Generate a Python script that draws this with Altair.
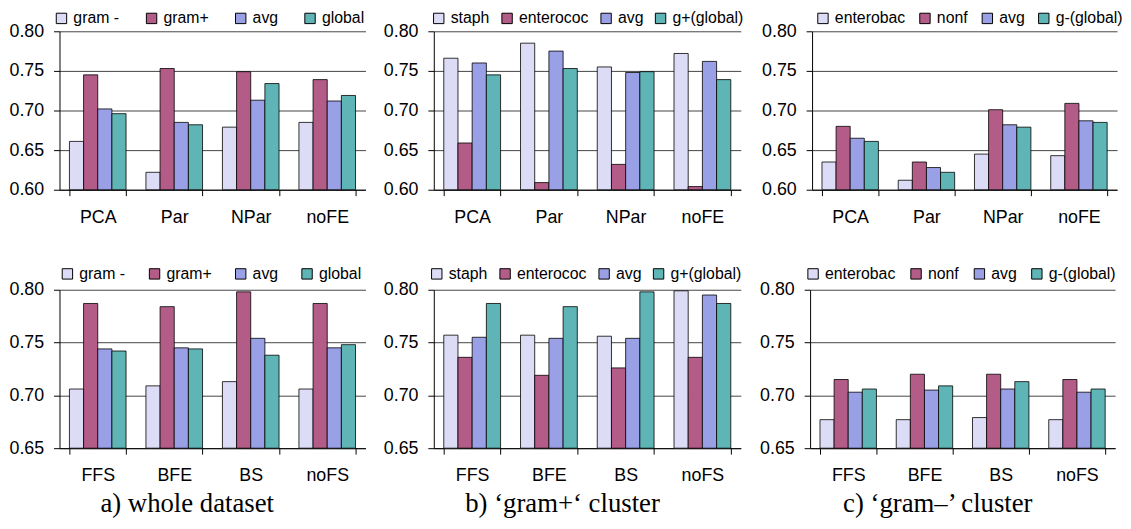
import altair as alt
import pandas as pd

fe_methods = ["PCA", "Par", "NPar", "noFE"]
fs_methods = ["FFS", "BFE", "BS", "noFS"]

names_a = ["gram -", "gram+", "avg", "global"]
names_b = ["staph", "enterococ", "avg", "g+(global)"]
names_c = ["enterobac", "nonf", "avg", "g-(global)"]

# top row (feature extraction)
a_top = [
    [0.661, 0.622, 0.679, 0.685],
    [0.745, 0.753, 0.749, 0.739],
    [0.702, 0.685, 0.713, 0.712],
    [0.696, 0.682, 0.734, 0.719],
]
b_top = [
    [0.766, 0.785, 0.755, 0.772],
    [0.659, 0.609, 0.632, 0.604],
    [0.760, 0.775, 0.748, 0.762],
    [0.745, 0.753, 0.749, 0.739],
]
c_top = [
    [0.635, 0.612, 0.645, 0.643],
    [0.680, 0.635, 0.701, 0.709],
    [0.665, 0.628, 0.682, 0.687],
    [0.661, 0.622, 0.679, 0.685],
]
# bottom row (feature selection)
a_bot = [
    [0.706, 0.709, 0.713, 0.706],
    [0.787, 0.784, 0.798, 0.787],
    [0.744, 0.745, 0.754, 0.745],
    [0.742, 0.744, 0.738, 0.748],
]
b_bot = [
    [0.757, 0.757, 0.756, 0.799],
    [0.736, 0.719, 0.726, 0.736],
    [0.755, 0.754, 0.754, 0.795],
    [0.787, 0.784, 0.798, 0.787],
]
c_bot = [
    [0.677, 0.677, 0.679, 0.677],
    [0.715, 0.720, 0.720, 0.715],
    [0.703, 0.705, 0.706, 0.703],
    [0.706, 0.709, 0.713, 0.706],
]

ticks_top = [0.60, 0.65, 0.70, 0.75, 0.80]
ticks_bot = [0.65, 0.70, 0.75, 0.80]

colors = ["#dcdcf6", "#b35c87", "#9aa0e6", "#5fb5b5"]

captions = ["a) whole dataset", "b) \u2018gram+\u2018 cluster", "c) \u2018gram\u2013\u2019 cluster"]


def panel(cats, names, values, ymin, ticks, width, leg_x, leg_y, col_pad, caption=None):
    rows = []
    for s, vals in zip(names, values):
        for c, v in zip(cats, vals):
            rows.append({"method": c, "series": s, "value": v, "base": ymin})
    df = pd.DataFrame(rows)
    ch = alt.Chart(df).mark_bar(stroke="black", strokeWidth=0.8,
                                width=alt.RelativeBandSize(1.0)).encode(
        x=alt.X("method:N", sort=cats, title=None,
                scale=alt.Scale(paddingInner=0.26, paddingOuter=0.13),
                axis=alt.Axis(labelAngle=0, tickBand="extent", grid=False,
                              tickSize=6, labelPadding=13, labelFontSize=18)),
        xOffset=alt.XOffset("series:N", sort=names,
                            scale=alt.Scale(domain=names, paddingInner=0, paddingOuter=0)),
        y=alt.Y("value:Q", title=None,
                scale=alt.Scale(domain=[ymin, 0.80], zero=False, nice=False),
                axis=alt.Axis(values=ticks, format=".2f", tickSize=6,
                              labelPadding=10, labelFontSize=18)),
        y2="base:Q",
        color=alt.Color("series:N", sort=names,
                        scale=alt.Scale(domain=names, range=colors),
                        legend=alt.Legend(title=None, orient="none", legendX=leg_x,
                                          legendY=leg_y, direction="horizontal",
                                          columns=4, symbolType="square",
                                          symbolSize=110, symbolStrokeColor="black",
                                          symbolStrokeWidth=1, labelFontSize=16,
                                          labelOffset=4, columnPadding=col_pad,
                                          padding=0, labelLimit=0)),
    ).properties(width=width, height=160)
    if caption:
        ch = ch.properties(title=alt.TitleParams(
            caption, orient="bottom", font="Liberation Serif", fontSize=27,
            fontWeight="normal", anchor="middle", frame="bounds", offset=6,
            color="black"))
    return ch


def row(*charts):
    return alt.hconcat(*charts, spacing=17).resolve_scale(
        color="independent", x="independent", xOffset="independent",
        y="independent")


top = row(
    panel(fe_methods, names_a, a_top, 0.60, ticks_top, 309, -6, -21, 24),
    panel(fe_methods, names_b, b_top, 0.60, ticks_top, 310, -3, -21, 9),
    panel(fe_methods, names_c, c_top, 0.60, ticks_top, 308, 3, -21, 11),
)

bot = row(
    panel(fs_methods, names_a, a_bot, 0.65, ticks_bot, 309, 0, -24, 21, captions[0]),
    panel(fs_methods, names_b, b_bot, 0.65, ticks_bot, 310, -5, -24, 9, captions[1]),
    panel(fs_methods, names_c, c_bot, 0.65, ticks_bot, 308, -5, -24, 12, captions[2]),
)

chart = alt.vconcat(top, bot, spacing=40).resolve_scale(
    color="independent", x="independent", xOffset="independent", y="independent"
).configure(
    font="Liberation Sans", padding=0
).configure_axis(
    labelFont="Liberation Sans", labelColor="black", domainColor="black",
    tickColor="black", gridColor="#444444", gridWidth=1, domainWidth=1
).configure_legend(
    labelFont="Liberation Sans", labelColor="black"
).configure_view(stroke=None)

chart.save("out.html", embed_options={"renderer": "svg", "actions": False})
